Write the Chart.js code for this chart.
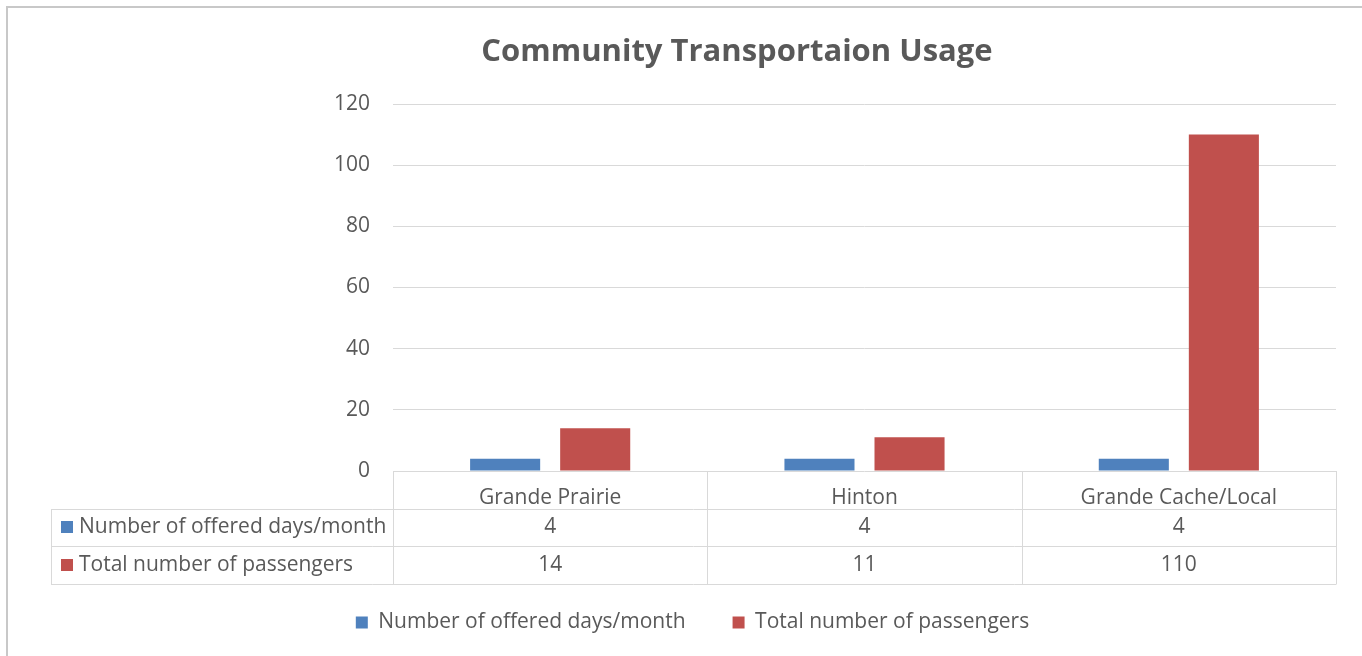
<!DOCTYPE html>
<html>
<head>
<meta charset="utf-8">
<title>Community Transportaion Usage</title>
<script src="https://cdn.jsdelivr.net/npm/chart.js@4"></script>
<style>
    body { margin: 0; background: #fff; }
    .chart-container { position: relative; width: 1362px; height: 656px; }
</style>
</head>
<body>
<div class="chart-container">
    <canvas id="usageChart"></canvas>
</div>
<script>
// Chart data
const chartTitle = 'Community Transportaion Usage';
const locations = ['Grande Prairie', 'Hinton', 'Grande Cache/Local'];
const offeredDays = [4, 4, 4];
const passengers = [14, 11, 110];
const seriesNames = ['Number of offered days/month', 'Total number of passengers'];
const seriesColors = ['#4f81bd', '#c0504d'];

const textColor = '#595959';
const lineColor = '#d9d9d9';
const fontFamily = '"Open Sans", sans-serif';
const rowHeight = 37.5;

// Draws the frame, the title and the data table under the plot
const dataTablePlugin = {
    id: 'dataTable',
    beforeDraw(chart) {
        const ctx = chart.ctx;
        ctx.save();
        ctx.fillStyle = '#c8c8c8';
        ctx.fillRect(6, 6, chart.width - 6, 2);
        ctx.fillRect(6, 6, 2, chart.height - 6);

        ctx.fillStyle = textColor;
        ctx.font = '700 31px ' + fontFamily;
        ctx.textAlign = 'center';
        ctx.textBaseline = 'middle';
        ctx.fillText(chartTitle, 737, 52);
        ctx.restore();
    },
    afterDraw(chart) {
        const ctx = chart.ctx;
        const area = chart.chartArea;
        const xScale = chart.scales.x;
        const colWidth = (area.right - area.left) / locations.length;
        const tableLeft = 51;
        const top = area.bottom;
        const rows = [offeredDays, passengers];
        const bottom = Math.round(top + (rows.length + 1) * rowHeight) + 0.5;

        ctx.save();
        ctx.strokeStyle = lineColor;
        ctx.lineWidth = 1;
        ctx.beginPath();
        // horizontal lines
        for (let r = 1; r <= rows.length + 1; r++) {
            const y = Math.round(top + r * rowHeight) + 0.5;
            ctx.moveTo(tableLeft, y);
            ctx.lineTo(area.right, y);
        }
        // vertical lines
        for (let c = 0; c <= locations.length; c++) {
            const x = Math.round(area.left + c * colWidth) + 0.5;
            ctx.moveTo(x, top);
            ctx.lineTo(x, bottom);
        }
        ctx.moveTo(tableLeft + 0.5, Math.round(top + rowHeight) + 0.5);
        ctx.lineTo(tableLeft + 0.5, bottom);
        ctx.stroke();

        // row headers and values
        ctx.font = '21px ' + fontFamily;
        ctx.textBaseline = 'middle';
        rows.forEach((values, r) => {
            const yMid = top + (r + 1.5) * rowHeight;
            ctx.fillStyle = seriesColors[r];
            ctx.fillRect(61, Math.round(yMid - 6), 12, 12);
            ctx.fillStyle = textColor;
            ctx.textAlign = 'left';
            ctx.fillText(seriesNames[r], 79, yMid);
            ctx.textAlign = 'center';
            values.forEach((v, i) => {
                ctx.fillText(String(v), xScale.getPixelForValue(i), yMid);
            });
        });
        ctx.restore();
    }
};

new Chart(document.getElementById('usageChart'), {
    type: 'bar',
    data: {
        labels: locations,
        datasets: [
            { label: seriesNames[0], data: offeredDays, backgroundColor: seriesColors[0] },
            { label: seriesNames[1], data: passengers, backgroundColor: seriesColors[1] }
        ]
    },
    options: {
        responsive: true,
        maintainAspectRatio: false,
        animation: false,
        categoryPercentage: 0.573,
        barPercentage: 0.778,
        layout: { padding: { left: 49, right: 26, top: 104, bottom: 13 } },
        plugins: {
            title: { display: false },
            legend: {
                position: 'bottom',
                labels: {
                    color: textColor,
                    font: { family: fontFamily, size: 21 },
                    boxWidth: 12,
                    boxHeight: 12,
                    padding: 47
                }
            },
            tooltip: { enabled: false }
        },
        scales: {
            x: {
                grid: { display: false },
                border: { display: false },
                ticks: {
                    color: textColor,
                    font: { family: fontFamily, size: 21 },
                    padding: 6,
                    maxRotation: 0
                },
                afterFit(scale) { scale.height = 94; }
            },
            y: {
                min: 0,
                max: 120,
                grid: { color: lineColor, drawTicks: false },
                border: { display: false },
                ticks: {
                    stepSize: 20,
                    color: textColor,
                    font: { family: fontFamily, size: 21 },
                    padding: 23
                },
                afterFit(scale) { scale.width = 344; }
            }
        }
    },
    plugins: [dataTablePlugin]
});
</script>
</body>
</html>
